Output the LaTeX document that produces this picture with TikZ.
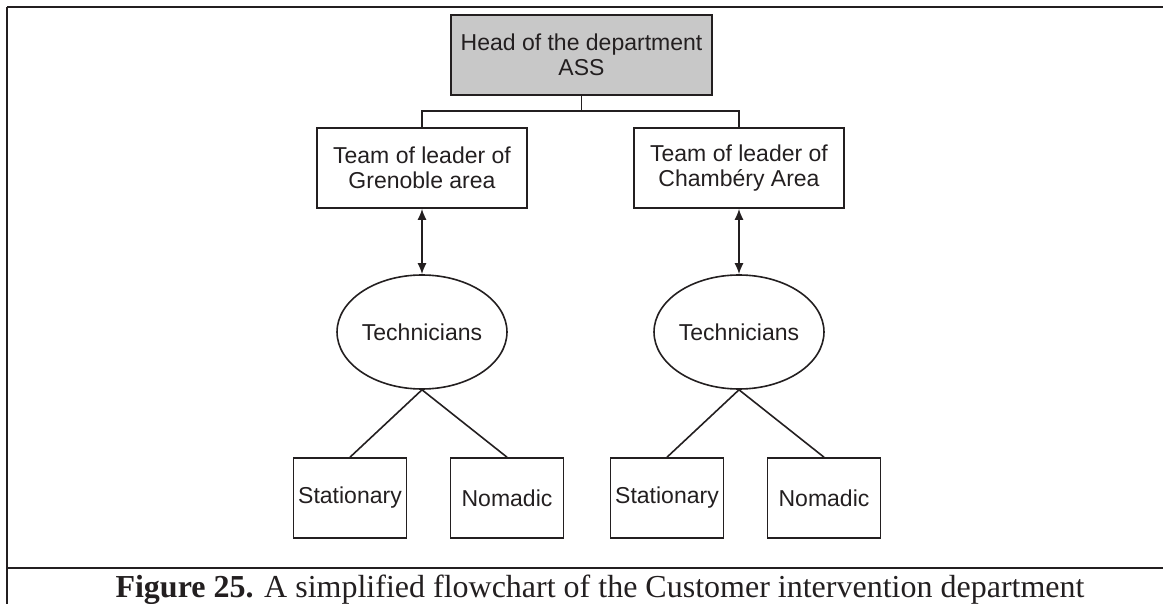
\documentclass[tikz,border=0pt]{standalone}
\usepackage{fontspec}
\setmainfont{Liberation Serif}
\newfontfamily\diagfont{Liberation Sans}
\usetikzlibrary{arrows.meta,shapes.geometric}
\definecolor{headgray}{RGB}{200,200,200}
\definecolor{inkc}{RGB}{35,31,32}
\tikzset{
  boxnode/.style={draw=inkc,line width=1.6pt,inner sep=0pt,align=center,
    font=\diagfont\fontsize{23}{25}\selectfont,text=inkc},
  ellnode/.style={draw=inkc,line width=1.6pt,ellipse,inner sep=0pt,
    minimum width=148pt,minimum height=114pt,font=\diagfont\fontsize{23}{25}\selectfont,text=inkc},
  conn/.style={draw=inkc,line width=1.6pt},
  frameline/.style={draw=inkc,line width=2.2pt},
  dblarrow/.style={conn,{Latex[length=11pt,width=9pt]}-{Latex[length=11pt,width=9pt]}}
}
\begin{document}
\begin{tikzpicture}[x=1pt,y=-1pt]
\useasboundingbox (0,0) rectangle (1163,604);
% frame
\draw[frameline] (7,7) -- (1163,7);
\draw[frameline] (7,7) -- (7,604);
\draw[frameline] (7,568) -- (1163,568);
% nodes
\node[boxnode,fill=headgray,minimum width=261pt,minimum height=80pt] (head) at (581.5,55) {Head of the department\\ASS};
\node[boxnode,minimum width=210pt,minimum height=80pt] (team1) at (422,168) {Team of leader of\\Grenoble area};
\node[boxnode,minimum width=210pt,minimum height=80pt] (team2) at (739,168) {Team of leader of\\Chambéry Area};
\node[ellnode] (tech1) at (422,332) {Technicians};
\node[ellnode] (tech2) at (739,332) {Technicians};
\node[boxnode,minimum width=113pt,minimum height=80pt] (stat1) at (350,498) {Stationary};
\node[boxnode,minimum width=113pt,minimum height=80pt] (nom1) at (507,498) {Nomadic};
\node[boxnode,minimum width=113pt,minimum height=80pt] (stat2) at (667,498) {Stationary};
\node[boxnode,minimum width=113pt,minimum height=80pt] (nom2) at (824,498) {Nomadic};
% connectors
\coordinate (bus) at (581.5,111);
\draw[conn] (head.south) -- (bus);
\draw[conn] (team1.north) |- (bus) -| (team2.north);
\draw[dblarrow] (team1.south) -- (tech1.north);
\draw[dblarrow] (team2.south) -- (tech2.north);
\draw[conn] (tech1.south) -- (stat1.north);
\draw[conn] (tech1.south) -- (nom1.north);
\draw[conn] (tech2.south) -- (stat2.north);
\draw[conn] (tech2.south) -- (nom2.north);
% caption
\node[inner sep=0pt,anchor=base,text=inkc,font=\fontsize{32}{35}\selectfont] (cap) at (600,597) {\textbf{Figure 25.} A simplified flowchart of the Customer intervention department};
\end{tikzpicture}
\end{document}
